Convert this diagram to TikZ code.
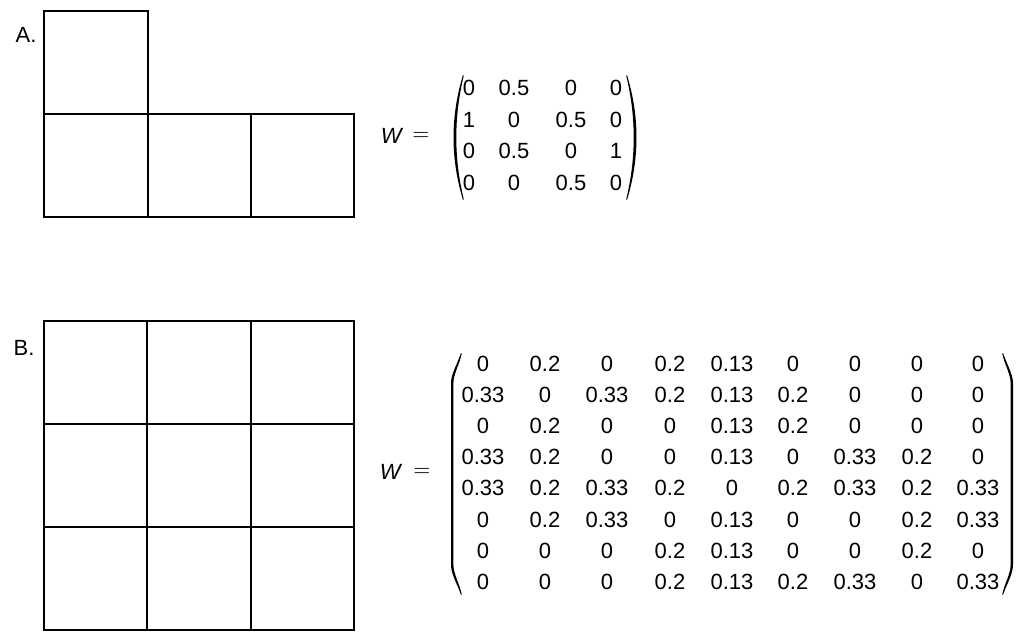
\documentclass[tikz,border=0pt]{standalone}
\usepackage{fontspec}
\setmainfont{Liberation Sans}
% tall parenthesis: #1 end x, #2 apex x, #3 top y, #4 bottom y, #5 curve height, #6 signed thickness
\newcommand\drawparen[6]{%
  \fill (#1,#3) .. controls ({#1+0.35*(#2-#1)},{#3+0.35*#5}) and (#2,{#3+0.7*#5}) .. (#2,{#3+#5})
    -- (#2,{#4-#5}) .. controls (#2,{#4-0.7*#5}) and ({#1+0.35*(#2-#1)},{#4-0.35*#5}) .. (#1,#4)
    -- ({#1+0.3*#6},{#4-0.6}) .. controls ({#1+0.35*(#2-#1)+#6},{#4-0.35*#5}) and ({#2+#6},{#4-0.7*#5}) .. ({#2+#6},{#4-#5})
    -- ({#2+#6},{#3+#5}) .. controls ({#2+#6},{#3+0.7*#5}) and ({#1+0.35*(#2-#1)+#6},{#3+0.35*#5}) .. ({#1+0.3*#6},{#3+0.6}) -- cycle;}
% smooth parenthesis: #1 end x, #2 signed sagitta, #3 top y, #4 bottom y, #5 signed thickness
\newcommand\drawroundparen[5]{%
  \fill (#1,#3) .. controls ({#1+1.333*#2},{#3+(#4-#3)/3}) and ({#1+1.333*#2},{#4-(#4-#3)/3}) .. (#1,#4)
    -- ({#1+0.3*#5},{#4-0.8}) .. controls ({#1+1.333*(#2+#5)},{#4-(#4-#3)/3}) and ({#1+1.333*(#2+#5)},{#3+(#4-#3)/3}) .. ({#1+0.3*#5},{#3+0.8}) -- cycle;}
\begin{document}
\begin{tikzpicture}[x=0.5pt,y=-0.5pt,
  grid/.style={line width=1pt, line join=miter},
  txt/.style={font=\fontsize{11}{13}\selectfont, inner sep=0pt}]
\useasboundingbox (0,0) rectangle (1024,642);

% ---- Part A ----
\node[txt] (labA) at (26,35) {A.};
\draw[grid] (44,11) rectangle (148,114);
\draw[grid] (44,114) rectangle (148,217);
\draw[grid] (148,114) rectangle (251,217);
\draw[grid] (251,114) rectangle (354,217);

\node[txt] (wA) at (392,136) {\textit{W}};
\node[txt] (eqA) at (421,136) {$=$};
\drawroundparen{463}{-9.5}{75}{200}{2.6}
\drawroundparen{627}{9.5}{75}{200}{-2.6}
\foreach \row [count=\r] in {{0,0.5,0,0},{1,0,0.5,0},{0,0.5,0,1},{0,0,0.5,0}}{
  \foreach \v [count=\c] in \row {
    \pgfmathsetmacro{\xx}{{469,514,571,616}[\c-1]}
    \node[txt] (a-\r-\c) at (\xx,{88+31.67*(\r-1)}) {\v};
  }
}

% ---- Part B ----
\node[txt] (labB) at (24,347.5) {B.};
\foreach \c in {0,1,2}{
  \foreach \r in {0,1,2}{
    \draw[grid] ({44+103.33*\c},{321+103*\r}) rectangle ({44+103.33*(\c+1)},{321+103*(\r+1)});
  }
}

\node[txt] (wB) at (391,472) {\textit{W}};
\node[txt] (eqB) at (422,472) {$=$};
\drawparen{461}{451}{353}{595}{30}{2.4}
\drawparen{1003}{1013}{353}{595}{30}{-2.4}
\foreach \row [count=\r] in {
  {0,0.2,0,0.2,0.13,0,0,0,0},
  {0.33,0,0.33,0.2,0.13,0.2,0,0,0},
  {0,0.2,0,0,0.13,0.2,0,0,0},
  {0.33,0.2,0,0,0.13,0,0.33,0.2,0},
  {0.33,0.2,0.33,0.2,0,0.2,0.33,0.2,0.33},
  {0,0.2,0.33,0,0.13,0,0,0.2,0.33},
  {0,0,0,0.2,0.13,0,0,0.2,0},
  {0,0,0,0.2,0.13,0.2,0.33,0,0.33}}{
  \foreach \v [count=\c] in \row {
    \pgfmathsetmacro{\xx}{{483,545,607,670,732,793,855,917,978}[\c-1]}
    \node[txt] (b-\r-\c) at (\xx,{363.5+31.2*(\r-1)}) {\v};
  }
}
\end{tikzpicture}
\end{document}
